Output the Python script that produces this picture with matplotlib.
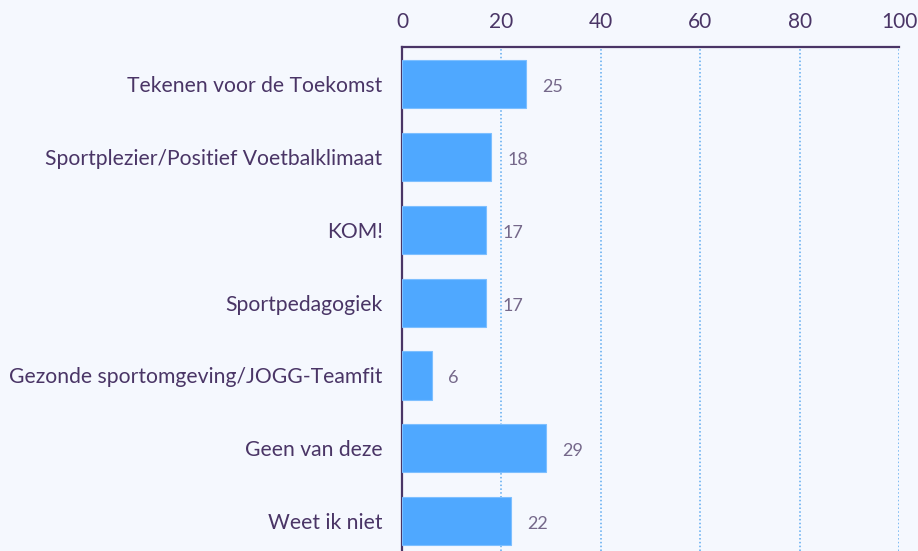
import matplotlib.pyplot as plt

# data
categories = ['Tekenen voor de Toekomst', 'Sportplezier/Positief Voetbalklimaat', 'KOM!',
              'Sportpedagogiek', 'Gezonde sportomgeving/JOGG-Teamfit', 'Geen van deze', 'Weet ik niet']
values = [25, 18, 17, 17, 6, 29, 22]
xticks = [0, 20, 40, 60, 80, 100]

bg = '#F5F8FE'
purple = '#4A3566'
barcol = '#4FA8FF'

plt.rcParams['font.family'] = ['Lato', 'DejaVu Sans']

fig = plt.figure(figsize=(9.18, 5.51), dpi=100, facecolor=bg)
ax = fig.add_axes([402 / 918, 0, 497 / 918, (551 - 47) / 551])
ax.set_facecolor(bg)

ypos = list(range(len(categories)))
ax.barh(ypos, values, height=0.66, color=barcol, edgecolor='#7DBFFF', linewidth=0.8, zorder=3)
for y, v in zip(ypos, values):
    ax.annotate(str(v), (v, y), xytext=(16, -3), textcoords='offset pixels',
                va='center', ha='left', fontsize=13, color='#75688A')

ax.set_xlim(0, 100)
ax.set_ylim(6.41, -0.51)
ax.set_yticks(ypos)
ax.set_yticklabels(categories, fontsize=15.2, color=purple)
ax.set_xticks(xticks)
ax.xaxis.tick_top()
ax.tick_params(axis='x', length=0, pad=11, labelsize=15, labelcolor=purple)
ax.tick_params(axis='y', length=0, pad=14)

ax.grid(axis='x', linestyle=(0, (1, 1.5)), color='#5DAAF0', linewidth=1.1, zorder=1)
for s in ['right', 'bottom']:
    ax.spines[s].set_visible(False)
for s in ['top', 'left']:
    ax.spines[s].set_color(purple)
    ax.spines[s].set_linewidth(1.6)

fig.savefig('out.png', dpi=100, facecolor=bg)
